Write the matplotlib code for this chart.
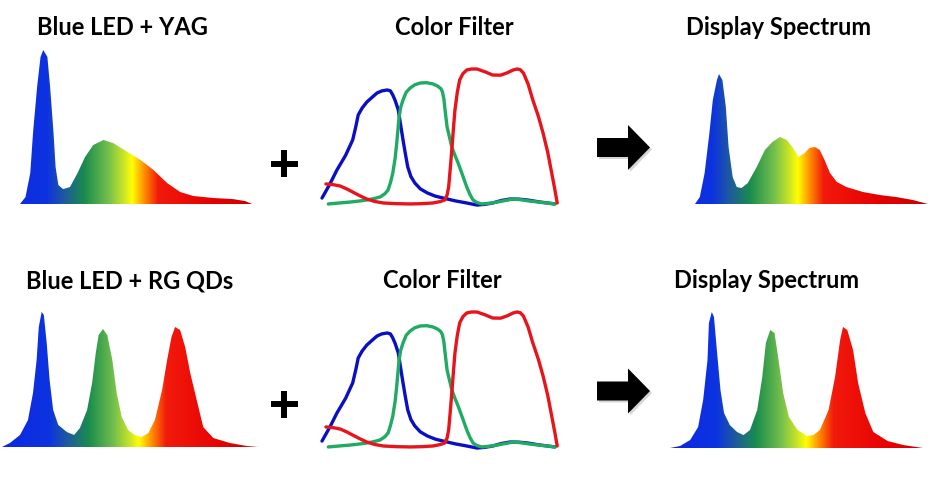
import numpy as np
import matplotlib
matplotlib.use("Agg")
import matplotlib.pyplot as plt
from matplotlib.colors import LinearSegmentedColormap, Normalize
from matplotlib.patches import Polygon

W, H = 929, 482

# --- spectra (wavelength nm, relative intensity) ---
yag_nm = [416, 424, 431, 435, 441, 446, 450, 456, 460, 465, 468, 472, 479, 489,
          500, 511, 523, 538, 552, 573, 592, 611, 631, 650, 669, 698, 727, 745, 755]
yag_int = [0.0, 0.045, 0.20, 0.46, 0.76, 0.955, 1.0, 0.955, 0.76, 0.46, 0.24, 0.123,
           0.097, 0.11, 0.20, 0.305, 0.383, 0.416, 0.396, 0.338, 0.286, 0.221, 0.136,
           0.078, 0.052, 0.039, 0.032, 0.019, 0.0]

yag_disp_nm = [430, 437, 444, 451, 456, 462, 465, 470, 475, 479, 485, 491, 498, 507,
               520, 532, 543, 554, 564, 573, 581, 590, 597, 605, 612, 619, 627, 637,
               651, 675, 700, 724, 748, 770]
yag_disp_int = [0.0, 0.045, 0.20, 0.46, 0.675, 0.805, 0.844, 0.805, 0.63, 0.37, 0.175,
                0.11, 0.104, 0.136, 0.24, 0.351, 0.403, 0.435, 0.416, 0.364, 0.305,
                0.331, 0.364, 0.37, 0.351, 0.286, 0.201, 0.143, 0.11, 0.078, 0.058,
                0.045, 0.026, 0.0]

qd_nm = [390, 401, 415, 426, 433, 438, 441, 445, 448, 452, 456, 461, 468, 480, 490,
         498, 508, 515, 520, 524, 530, 536, 543, 549, 556, 565, 574, 584, 593, 602,
         612, 619, 625, 630, 637, 644, 651, 661, 669, 683, 706, 730, 745]
qd_int = [0.0, 0.026, 0.078, 0.175, 0.351, 0.565, 0.779, 0.877, 0.857, 0.675, 0.435,
          0.24, 0.143, 0.097, 0.078, 0.123, 0.24, 0.416, 0.61, 0.727, 0.766, 0.727,
          0.565, 0.351, 0.195, 0.11, 0.078, 0.065, 0.091, 0.175, 0.37, 0.565, 0.714,
          0.779, 0.76, 0.649, 0.481, 0.286, 0.13, 0.058, 0.026, 0.006, 0.0]

qd_disp_nm = [391, 405, 419, 430, 437, 443, 445, 449, 452, 456, 461, 466, 474, 484,
              493, 502, 512, 519, 524, 530, 536, 541, 548, 556, 568, 581, 590, 599,
              611, 620, 627, 631, 637, 645, 652, 662, 673, 693, 715, 742]
qd_disp_int = [0.0, 0.013, 0.052, 0.136, 0.312, 0.571, 0.812, 0.883, 0.851, 0.636,
               0.377, 0.227, 0.149, 0.104, 0.084, 0.117, 0.247, 0.461, 0.682, 0.766,
               0.747, 0.591, 0.357, 0.201, 0.117, 0.078, 0.084, 0.117, 0.247, 0.461,
               0.701, 0.786, 0.766, 0.636, 0.422, 0.227, 0.104, 0.045, 0.019, 0.0]

# --- colour filter transmission (wavelength nm, transmittance) ---
cf_blue_nm = [400, 410, 419, 430, 439, 443, 446, 451, 457, 464, 470, 476, 483, 487,
              490, 493, 497, 500, 503, 506, 509, 513, 518, 525, 534, 544, 554, 569,
              584, 597, 607, 617, 628, 639, 650, 661, 677, 696]
cf_blue_t = [0.058, 0.16, 0.263, 0.37, 0.482, 0.58, 0.664, 0.715, 0.759, 0.795, 0.825,
             0.84, 0.847, 0.84, 0.81, 0.77, 0.701, 0.59, 0.482, 0.38, 0.285, 0.215,
             0.168, 0.125, 0.095, 0.072, 0.058, 0.038, 0.022, 0.007, 0.012, 0.022,
             0.04, 0.051, 0.05, 0.044, 0.029, 0.015]

cf_green_nm = [408, 422, 436, 447, 457, 466, 474, 480, 484, 487, 490, 493, 495, 498,
               500, 503, 507, 512, 518, 525, 533, 541, 547, 551, 553, 555, 556, 559,
               565, 569, 573, 579, 584, 588, 592, 597, 603, 613, 623, 633, 643, 654,
               664, 675, 686, 696]
cf_green_t = [0.015, 0.022, 0.029, 0.036, 0.044, 0.054, 0.066, 0.09, 0.117, 0.17, 0.241,
              0.35, 0.46, 0.65, 0.72, 0.774, 0.83, 0.861, 0.885, 0.898, 0.9, 0.891,
              0.875, 0.857, 0.835, 0.78, 0.723, 0.577, 0.431, 0.37, 0.314, 0.22, 0.139,
              0.085, 0.044, 0.025, 0.015, 0.02, 0.029, 0.04, 0.051, 0.045, 0.036, 0.029,
              0.022, 0.015]

cf_red_nm = [405, 414, 423, 431, 439, 448, 457, 467, 478, 495, 512, 527, 541, 550,
             556, 559, 561, 563, 565, 567, 569, 572, 575, 579, 584, 590, 597, 607, 617,
             627, 635, 643, 648, 652, 656, 662, 668, 675, 681, 687, 692, 696, 699]
cf_red_t = [0.161, 0.156, 0.146, 0.126, 0.102, 0.075, 0.051, 0.033, 0.022, 0.017, 0.015,
            0.017, 0.022, 0.032, 0.044, 0.08, 0.139, 0.27, 0.409, 0.56, 0.701, 0.83, 0.92,
            0.965, 0.993, 1.0, 1.0, 0.98, 0.956, 0.955, 0.971, 0.993, 1.0, 0.995, 0.971,
            0.89, 0.774, 0.655, 0.533, 0.39, 0.241, 0.12, 0.022]

# wavelength -> colour ramp
stop_nm = [380, 455, 480, 510, 545, 568, 580, 598, 618, 700, 780]
stop_rgb = [(0.05, 0.15, 0.88), (0.05, 0.2, 0.88), (0.12, 0.35, 0.62), (0.1, 0.55, 0.3),
            (0.45, 0.75, 0.3), (0.8, 0.9, 0.15), (1.0, 1.0, 0.0), (1.0, 0.55, 0.0),
            (0.95, 0.1, 0.05), (0.9, 0.0, 0.0), (0.75, 0.0, 0.0)]

titles = ["Blue LED + YAG", "Color Filter", "Display Spectrum",
          "Blue LED + RG QDs", "Color Filter", "Display Spectrum"]

spec_cmap = LinearSegmentedColormap.from_list(
    "spec", [((n - 380) / 400, c) for n, c in zip(stop_nm, stop_rgb)])
spec_norm = Normalize(380, 780)

fig = plt.figure(figsize=(W / 100, H / 100), dpi=100)


def px_axes(x0, x1, ytop, ybase):
    ax = fig.add_axes([x0 / W, 1 - ybase / H, (x1 - x0) / W, (ybase - ytop) / H])
    ax.axis("off")
    return ax


def spectrum(x0, x1, ybase, nm, inten):
    ax = px_axes(x0, x1, ybase - 154, ybase)
    poly = ax.fill(nm, inten, facecolor="none", edgecolor="none")[0]
    ramp = np.linspace(nm[0], nm[-1], 800)[None, :]
    im = ax.imshow(ramp, cmap=spec_cmap, norm=spec_norm, aspect="auto",
                   extent=(nm[0], nm[-1], 0, 1), origin="lower", interpolation="bilinear")
    im.set_clip_path(poly)
    ax.set_xlim(nm[0], nm[-1])
    ax.set_ylim(0, 1)


def color_filter(ybase):
    ax = px_axes(322, 558, ybase - 137, ybase)
    for nm, t, c in [(cf_blue_nm, cf_blue_t, "#0a0fc4"),
                     (cf_green_nm, cf_green_t, "#1fab62"),
                     (cf_red_nm, cf_red_t, "#e8141c")]:
        ax.plot(nm, t, color=c, lw=2.4, solid_capstyle="round",
                solid_joinstyle="round", clip_on=False)
    ax.set_xlim(400, 700)
    ax.set_ylim(0, 1)


spectrum(20, 252, 204, yag_nm, yag_int)
spectrum(695, 928, 204, yag_disp_nm, yag_disp_int)
spectrum(2, 258, 447, qd_nm, qd_int)
spectrum(670, 923, 448, qd_disp_nm, qd_disp_int)
color_filter(206)
color_filter(449)

# overlay in pixel units for titles, plus signs and arrows
ov = fig.add_axes([0, 0, 1, 1])
ov.set_xlim(0, W)
ov.set_ylim(H, 0)
ov.axis("off")

title_x = [122, 454, 779, 130, 442, 767]
title_y = [35, 35, 35, 288, 288, 288]
for t, x, y in zip(titles, title_x, title_y):
    ov.text(x, y, t, ha="center", va="baseline", fontsize=17,
            fontweight="bold", family="Lato", color="black")

for cy in [163.5, 404]:
    ov.plot([271, 298], [cy, cy], color="black", lw=4.3, solid_capstyle="butt")
    ov.plot([284.5, 284.5], [cy - 13.5, cy + 13.5], color="black", lw=4.3,
            solid_capstyle="butt")

for cy in [147.5, 391]:
    shape = [(597, cy - 9.5), (628, cy - 9.5), (628, cy - 22.5), (650, cy),
             (628, cy + 22.5), (628, cy + 9.5), (597, cy + 9.5)]
    shadow = [(x + 2, y + 2) for x, y in shape]
    ov.add_patch(Polygon(shadow, closed=True, facecolor="#888888", alpha=0.35,
                         edgecolor="none"))
    ov.add_patch(Polygon(shape, closed=True, facecolor="black", edgecolor="none"))

fig.savefig("out.png", dpi=100)
